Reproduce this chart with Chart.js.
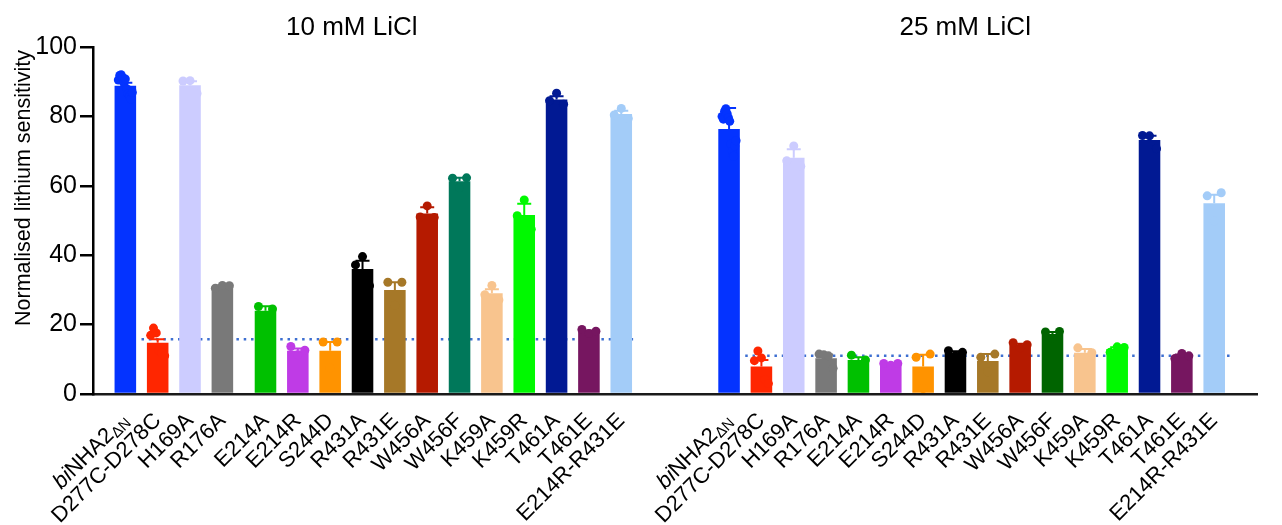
<!DOCTYPE html>
<html>
<head>
<meta charset="utf-8">
<script src="https://cdn.jsdelivr.net/npm/chart.js@4/dist/chart.umd.min.js"></script>
<style>
  html, body { margin: 0; padding: 0; background: #ffffff; }
  canvas { display: block; }
</style>
</head>
<body>
<canvas id="chart" width="1282" height="525"></canvas>
<script>
// ---- data ---------------------------------------------------------------
const variants = ['biNHA2ΔN', 'D277C-D278C', 'H169A', 'R176A', 'E214A', 'E214R', 'S244D',
  'R431A', 'R431E', 'W456A', 'W456F', 'K459A', 'K459R', 'T461A', 'T461E', 'E214R-R431E'];
const conditions = ['10 mM LiCl', '25 mM LiCl'];
const yTicks = [0, 20, 40, 60, 80, 100];
const yTitle = 'Normalised lithium sensitivity';

// 10 mM LiCl: mean, error and individual replicates
const mean10 = [88.8, 14.8, 89.0, 31.0, 24.0, 12.5, 12.5, 36.0, 30.0, 52.0, 61.3, 29.0, 51.6, 84.9, 18.0, 80.7];
const err10  = [0.9, 1.0, 1.1, 0.3, 1.3, 0.6, 2.5, 2.4, 2.2, 1.8, 1.0, 1.2, 3.2, 0.9, 0.3, 0.9];
const reps10 = [
  [90.5, 91.8, 92.0, 91.2, 89.6, 90.8, 88.0, 86.5, 85.8, 85.0, 86.9],
  [16.9, 19.0, 17.6, 12.5, 11.8, 11.0],
  [90.2, 90.3, 86.6],
  [30.5, 31.3, 31.2],
  [25.2, 22.3, 24.5],
  [13.7, 11.3, 12.6],
  [15.0, 7.5, 15.0],
  [37.2, 39.6, 31.2],
  [32.2, 25.6, 32.2],
  [51.0, 54.2, 50.9],
  [62.2, 59.4, 62.3],
  [28.6, 31.3, 27.1],
  [51.4, 55.9, 47.5],
  [84.5, 86.7, 83.5],
  [18.6, 17.4, 18.1],
  [80.4, 82.3, 79.4]
];

// 25 mM LiCl
const mean25 = [76.4, 7.9, 68.1, 10.3, 9.8, 8.6, 7.9, 11.8, 9.5, 14.1, 17.3, 11.9, 13.0, 73.2, 11.0, 55.0];
const err25  = [6.0, 1.9, 2.4, 1.1, 0.8, 0.2, 3.4, 0.5, 2.0, 0.4, 0.6, 1.1, 0.5, 1.2, 0.4, 2.4];
const reps25 = [
  [80.0, 79.2, 81.5, 82.2, 80.8, 79.6, 78.6, 72.0, 70.0, 68.5, 71.5, 73.0],
  [9.6, 12.4, 10.4, 4.2, 3.0],
  [67.2, 71.5, 65.6],
  [11.5, 11.3, 11.0, 7.4],
  [11.2, 8.4, 9.8],
  [8.8, 8.3, 8.8],
  [10.6, 1.6, 11.5],
  [12.5, 11.0, 12.0],
  [10.6, 6.4, 11.5],
  [14.8, 13.3, 14.2],
  [17.9, 16.1, 18.0],
  [13.3, 10.5, 11.9],
  [12.0, 13.6, 13.4],
  [74.5, 74.4, 70.7],
  [10.2, 11.7, 11.0],
  [57.1, 49.9, 58.0]
];

// reference (dotted) level for each condition
const thresholds = [15.8, 11.0];

const colors10 = ['#0433FF', '#FF2600', '#CCCCFF', '#797979', '#00C000', '#BF3BE6', '#FF9300', '#000000',
  '#A67828', '#B51A00', '#00785A', '#F8C48E', '#00F900', '#011993', '#761660', '#A3CCF8'];
const colors25 = ['#0433FF', '#FF2600', '#CCCCFF', '#797979', '#00C000', '#BF3BE6', '#FF9300', '#000000',
  '#A67828', '#B51A00', '#006400', '#F8C48E', '#00F900', '#011993', '#761660', '#A3CCF8'];

const means = [mean10, mean25];
const errs = [err10, err25];
const reps = [reps10, reps25];
const colors = [colors10, colors25];

// ---- slot layout on a fine category axis (3 slots per bar) ---------------
const FONT = '"Liberation Sans", Arial, Helvetica, sans-serif';
const LEAD = 3, STEP = 3, SPLIT_AFTER = 4, SPLIT_EXTRA = 1, GROUP_GAP = 10, TRAIL = 4;
const TITLE_SHIFT = [-2.0, -0.6]; // title centre relative to group centre, in slots
const groupSlots = [[], []];
let cursor = LEAD;
for (let g = 0; g < 2; g++) {
  for (let i = 0; i < variants.length; i++) {
    groupSlots[g].push(cursor);
    if (g === 0 && i === SPLIT_AFTER - 1) cursor += SPLIT_EXTRA;
    cursor += STEP;
  }
  if (g === 0) cursor += GROUP_GAP - STEP;
}
const lastSlot = groupSlots[1][groupSlots[1].length - 1] + TRAIL;
const nSlots = lastSlot + 1;

const labels = new Array(nSlots).fill('');
const barData = new Array(nSlots).fill(null);
const barColors = new Array(nSlots).fill('rgba(0,0,0,0)');
const dotData = [];
const dotColors = [];
const DOT_SPREAD = 1.3; // horizontal spread of replicate dots, in slots

for (let g = 0; g < 2; g++) {
  for (let i = 0; i < variants.length; i++) {
    const s = groupSlots[g][i];
    labels[s] = variants[i];
    barData[s] = means[g][i];
    barColors[s] = colors[g][i];
    const r = reps[g][i];
    r.forEach((v, j) => {
      const off = r.length > 1 ? (j / (r.length - 1) - 0.5) * DOT_SPREAD : 0;
      dotData.push({ x: s + off, y: v });
      dotColors.push(colors[g][i]);
    });
  }
}

// ---- plugins ------------------------------------------------------------
const decorations = {
  id: 'decorations',
  beforeDatasetsDraw(chart) {
    const { ctx } = chart;
    const xs = chart.scales.x, ys = chart.scales.y;
    ctx.save();
    ctx.strokeStyle = '#3D6FD1';
    ctx.lineWidth = 2.5;
    ctx.setLineDash([2.5, 4.8]);
    for (let g = 0; g < 2; g++) {
      const sl = groupSlots[g];
      const x0 = xs.getPixelForValue(sl[0] + 1.5);
      const x1 = xs.getPixelForValue(sl[sl.length - 1] + 1.5);
      const y = ys.getPixelForValue(thresholds[g]);
      ctx.beginPath();
      ctx.moveTo(x0, y);
      ctx.lineTo(x1, y);
      ctx.stroke();
    }
    ctx.restore();
  },
  afterDatasetDraw(chart, args) {
    if (args.index !== 0) return;
    const { ctx } = chart;
    const xs = chart.scales.x, ys = chart.scales.y;
    ctx.save();
    ctx.lineWidth = 2;
    ctx.setLineDash([]);
    for (let g = 0; g < 2; g++) {
      for (let i = 0; i < variants.length; i++) {
        const x = xs.getPixelForValue(groupSlots[g][i]);
        const yM = ys.getPixelForValue(means[g][i]);
        const yT = ys.getPixelForValue(means[g][i] + errs[g][i]);
        ctx.strokeStyle = colors[g][i];
        ctx.beginPath();
        ctx.moveTo(x, yM);
        ctx.lineTo(x, yT);
        ctx.moveTo(x - 7, yT);
        ctx.lineTo(x + 7, yT);
        ctx.stroke();
      }
    }
    ctx.restore();
  },
  afterDraw(chart) {
    const { ctx } = chart;
    const xs = chart.scales.x;
    ctx.save();
    // condition titles
    ctx.fillStyle = '#000';
    ctx.font = '26px ' + FONT;
    ctx.textAlign = 'center';
    ctx.textBaseline = 'alphabetic';
    for (let g = 0; g < 2; g++) {
      const sl = groupSlots[g];
      const cx = xs.getPixelForValue((sl[0] + sl[sl.length - 1]) / 2 + TITLE_SHIFT[g]);
      ctx.fillText(conditions[g], cx, 35);
    }
    // y axis title
    ctx.save();
    ctx.translate(30, 188);
    ctx.rotate(-Math.PI / 2);
    ctx.font = '21.5px ' + FONT;
    ctx.textBaseline = 'alphabetic';
    ctx.fillText(yTitle, 0, 0);
    ctx.restore();
    // styled construct name: italic "bi", regular "NHA2", subscript "ΔN"
    const items = xs.getLabelItems();
    items.forEach(item => {
      if (item.label !== variants[0]) return;
      const o = item.options;
      ctx.save();
      ctx.translate(o.translation[0], o.translation[1]);
      ctx.rotate(o.rotation);
      ctx.textBaseline = o.textBaseline;
      ctx.textAlign = 'left';
      ctx.fillStyle = '#000';
      const parts = [
        { t: 'bi', f: 'italic 22px ' + FONT, dy: 0 },
        { t: 'NHA2', f: '22px ' + FONT, dy: 0 },
        { t: 'ΔN', f: '15px ' + FONT, dy: 5 }
      ];
      let w = 0;
      parts.forEach(p => { ctx.font = p.f; p.w = ctx.measureText(p.t).width; w += p.w; });
      let x = o.textAlign === 'right' ? -w : (o.textAlign === 'center' ? -w / 2 : 0);
      parts.forEach(p => {
        ctx.font = p.f;
        ctx.fillText(p.t, x, item.textOffset + p.dy);
        x += p.w;
      });
      ctx.restore();
    });
    ctx.restore();
  }
};

// ---- chart --------------------------------------------------------------
new Chart(document.getElementById('chart'), {
  type: 'bar',
  data: {
    labels: labels,
    datasets: [
      {
        type: 'bar',
        data: barData,
        backgroundColor: barColors,
        borderWidth: 0,
        grouped: false,
        categoryPercentage: 1,
        barPercentage: 2,
        order: 2,
        xAxisID: 'x',
        yAxisID: 'y'
      },
      {
        type: 'scatter',
        data: dotData,
        showLine: false,
        pointRadius: 4.5,
        pointBorderWidth: 0,
        pointBackgroundColor: dotColors,
        pointBorderColor: dotColors,
        order: 1,
        xAxisID: 'xd',
        yAxisID: 'y'
      }
    ]
  },
  options: {
    responsive: false,
    devicePixelRatio: 1,
    animation: false,
    events: [],
    layout: { padding: { top: 47, right: 2, left: 0, bottom: 0 } },
    plugins: { legend: { display: false }, tooltip: { enabled: false }, title: { display: false } },
    scales: {
      x: {
        type: 'category',
        offset: false,
        grid: { display: false, offset: false },
        border: { display: true, color: '#1a1a1a', width: 2.5 },
        ticks: {
          autoSkip: false,
          maxRotation: 45,
          minRotation: 45,
          padding: 6,
          font: { family: FONT, size: 22 },
          color: c => (c.tick && c.tick.label === variants[0]) ? 'rgba(0,0,0,0)' : '#000000'
        },
        afterFit: s => { s.height = 131; }
      },
      xd: {
        type: 'linear',
        display: false,
        offset: false,
        grid: { offset: false },
        min: 0,
        max: lastSlot
      },
      y: {
        type: 'linear',
        min: yTicks[0],
        max: yTicks[yTicks.length - 1],
        afterBuildTicks: s => { s.ticks = yTicks.map(v => ({ value: v })); },
        grid: { drawOnChartArea: false, drawTicks: true, tickLength: 13, color: '#000000', lineWidth: 2.5 },
        border: { display: true, color: '#000000', width: 2.5 },
        ticks: { padding: 3, color: '#000000', font: { family: FONT, size: 25 } },
        afterFit: s => { s.width = 93; }
      }
    }
  },
  plugins: [decorations]
});
</script>
</body>
</html>
